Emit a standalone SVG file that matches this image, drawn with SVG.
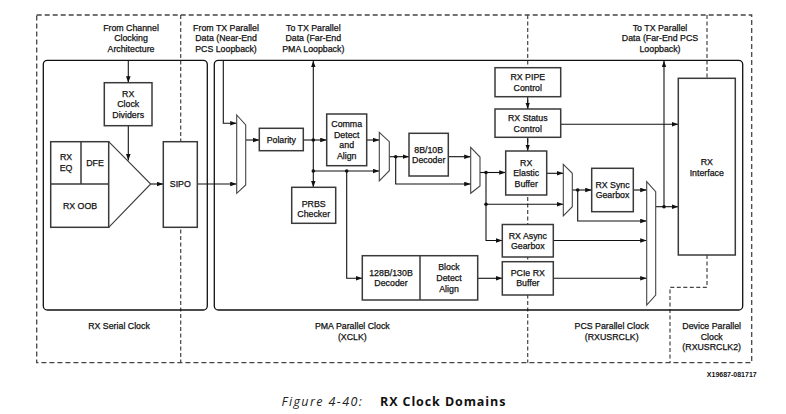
<svg xmlns="http://www.w3.org/2000/svg" width="786" height="414" viewBox="0 0 786 414">
<defs>
<marker id="ah" markerUnits="userSpaceOnUse" markerWidth="7" markerHeight="5" refX="6.5" refY="2.3" orient="auto"><path d="M0,0 L6.5,2.3 L0,4.6 z" fill="#111"/></marker>
<style>
text{font-family:"Liberation Sans",Arial,sans-serif;font-size:8.8px;fill:#111;stroke:#111;stroke-width:0.25;text-anchor:middle}
.box{fill:#fff;stroke:#3a3a3a;stroke-width:1.5}
.mux{fill:#fff;stroke:#444;stroke-width:1.1}
.dash{fill:none;stroke:#444;stroke-width:1.3;stroke-dasharray:5 3}
.vdash{fill:none;stroke:#444;stroke-width:1.2;stroke-dasharray:4 2.5}
.panel{fill:none;stroke:#111;stroke-width:1.3}
.c{fill:none;stroke:#3a3a3a;stroke-width:1.5}
.a{fill:none;stroke:#111;stroke-width:1.1;marker-end:url(#ah)}
.dot{fill:#111}
.cap{text-anchor:start;font-family:"Open Sans","Noto Sans",sans-serif;font-size:12.5px;stroke:none}
</style>
</defs>
<rect width="786" height="414" fill="#fff"/>
<g id="domains">
<rect class="dash" x="36.7" y="15" width="715" height="347.7"/>
<path class="vdash" d="M180.7,15 V362.7"/>
<path class="vdash" d="M527.7,15 V362.7"/>
<path class="vdash" d="M707,15 V78.3 M707,255 V287.3 H670 V362.7"/>
</g>
<g id="panels">
<rect class="panel" x="43.3" y="60.3" width="164" height="249.7" rx="4"/>
<rect class="panel" x="214.3" y="60.3" width="528.4" height="249.7" rx="4"/>
</g>
<g id="labels">
<text x="131" y="30.5">From Channel</text><text x="131" y="41">Clocking</text><text x="131" y="51.5">Architecture</text>
<text x="226" y="30.5">From TX Parallel</text><text x="226" y="41">Data (Near-End</text><text x="226" y="51.5">PCS Loopback)</text>
<text x="313.3" y="30.5">To TX Parallel</text><text x="313.3" y="41">Data (Far-End</text><text x="313.3" y="51.5">PMA Loopback)</text>
<text x="660" y="30.5">To TX Parallel</text><text x="660" y="41">Data (Far-End PCS</text><text x="660" y="51.5">Loopback)</text>
<text x="119" y="329.2">RX Serial Clock</text>
<text x="352.3" y="329.2">PMA Parallel Clock</text><text x="352.3" y="339.7">(XCLK)</text>
<text x="611.7" y="329.2">PCS Parallel Clock</text><text x="611.7" y="339.7">(RXUSRCLK)</text>
<text x="711.7" y="329.2">Device Parallel</text><text x="711.7" y="339.7">Clock</text><text x="711.7" y="350.2">(RXUSRCLK2)</text>
<text x="756.7" y="377" style="text-anchor:end;font-size:7px;font-weight:bold;stroke:none">X19687-081717</text>
</g>
<g id="connectors">
<path class="a" d="M128.3,60.3 V82.7"/>
<path class="a" d="M128.3,125.7 V160.5"/>
<path class="a" d="M150.7,184 H163.3"/>
<path class="a" d="M197.3,184 H236.7"/>
<path class="a" d="M223.3,60.3 V123.3 H236.7"/>
<path class="a" d="M245.7,140 H259.3"/>
<path class="a" d="M303.3,140 H326.7"/>
<path class="a" d="M313.3,140 V60.8"/>
<path class="a" d="M313.3,140 V187.3"/>
<path class="a" d="M313.3,171 H379.3"/>
<path class="a" d="M346.7,171 V278.3 H362.3"/>
<path class="a" d="M366.7,140 H379.3"/>
<path class="a" d="M389.3,156.7 H409"/>
<path class="a" d="M395.7,156.7 V184 H470.7"/>
<path class="a" d="M448.3,156.7 H470.7"/>
<path class="a" d="M480,172.5 H505.7"/>
<path class="a" d="M486,172.5 V240.5 H502.3"/>
<path class="a" d="M486,204.3 H563.3"/>
<path class="a" d="M527.7,96.7 V109"/>
<path class="a" d="M527.7,137.3 V151"/>
<path class="a" d="M560.7,124.3 H678.3"/>
<path class="a" d="M546.7,173.3 H563.3"/>
<path class="a" d="M572.3,190 H591.7"/>
<path class="a" d="M577.7,190 V221 H646.7"/>
<path class="a" d="M633.3,190 H646.7"/>
<path class="a" d="M553.3,240.5 H646.7"/>
<path class="a" d="M477.7,278.3 H502.3"/>
<path class="a" d="M553.3,278.3 H646.7"/>
<path class="a" d="M655.7,206.7 H678.3"/>
<path class="a" d="M664,206.7 V60.8"/>
<circle class="dot" cx="313.3" cy="140" r="1.8"/>
<circle class="dot" cx="313.3" cy="171" r="1.8"/>
<circle class="dot" cx="346.7" cy="171" r="1.8"/>
<circle class="dot" cx="395.7" cy="156.7" r="1.8"/>
<circle class="dot" cx="486" cy="172.5" r="1.8"/>
<circle class="dot" cx="486" cy="204.3" r="1.8"/>
<circle class="dot" cx="577.7" cy="190" r="1.8"/>
<circle class="dot" cx="664" cy="206.7" r="1.8"/>
</g>
<g id="clock-dividers"><rect class="box" x="104.3" y="82.7" width="47.7" height="43"/><text x="128.2" y="96.5">RX</text><text x="128.2" y="107.2">Clock</text><text x="128.2" y="117.9">Dividers</text></g>
<g id="rx-frontend">
<rect class="box" x="50.7" y="141.7" width="58" height="85.6"/>
<path class="c" d="M81,141.7 V184 M50.7,184 H108.7"/>
<path class="c" d="M108.7,141.7 L150.7,184 L108.7,227.3" style="stroke-width:1.1"/>
<text x="66" y="159.9">RX</text><text x="66" y="170.5">EQ</text>
<text x="95" y="166.2">DFE</text>
<text x="80" y="208.5">RX OOB</text>
</g>
<g id="sipo"><rect class="box" x="163.3" y="141.7" width="34" height="85.6"/><text x="180.3" y="187.2">SIPO</text></g>
<g id="mux1"><polygon class="mux" points="236.7,115 245.7,125 245.7,185 236.7,193.3"/></g>
<g id="polarity"><rect class="box" x="259.3" y="128.3" width="44" height="22.4"/><text x="281.3" y="142.7">Polarity</text></g>
<g id="comma"><rect class="box" x="326.7" y="114" width="40" height="51.7"/><text x="346.7" y="127.2">Comma</text><text x="346.7" y="137.5">Detect</text><text x="346.7" y="148.2">and</text><text x="346.7" y="158.5">Align</text></g>
<g id="prbs"><rect class="box" x="291.7" y="187.3" width="44" height="36"/><text x="313.7" y="206.5">PRBS</text><text x="313.7" y="216.9">Checker</text></g>
<g id="mux2"><polygon class="mux" points="379.3,132.3 389.3,141.7 389.3,170.7 379.3,181"/></g>
<g id="dec8b10b"><rect class="box" x="409" y="133.3" width="39.3" height="42.7"/><text x="428.7" y="153.2">8B/10B</text><text x="428.7" y="163.2">Decoder</text></g>
<g id="mux3"><polygon class="mux" points="470.7,147.3 480,157 480,186 470.7,193.3"/></g>
<g id="dec128b"><rect class="box" x="362.3" y="255.7" width="115.4" height="44.3"/><path class="c" d="M420,255.7 V300"/><text x="391" y="275.5">128B/130B</text><text x="391" y="285.9">Decoder</text><text x="449" y="270.2">Block</text><text x="449" y="280.9">Detect</text><text x="449" y="291.5">Align</text></g>
<g id="pipe-control"><rect class="box" x="495" y="67.7" width="65.7" height="29"/><text x="527.8" y="79.9">RX PIPE</text><text x="527.8" y="90.5">Control</text></g>
<g id="status-control"><rect class="box" x="495" y="109" width="65.7" height="28.3"/><text x="527.8" y="121.2">RX Status</text><text x="527.8" y="131.5">Control</text></g>
<g id="elastic"><rect class="box" x="505.7" y="151" width="41" height="44"/><text x="526.2" y="165.9">RX</text><text x="526.2" y="176.2">Elastic</text><text x="526.2" y="186.5">Buffer</text></g>
<g id="async"><rect class="box" x="502.3" y="224.5" width="51" height="32.5"/><text x="527.8" y="238.9">RX Async</text><text x="527.8" y="248.9">Gearbox</text></g>
<g id="pcie"><rect class="box" x="502.3" y="261.7" width="51" height="33.3"/><text x="527.8" y="275.9">PCIe RX</text><text x="527.8" y="286.2">Buffer</text></g>
<g id="mux4"><polygon class="mux" points="563.3,164.3 572.3,173.3 572.3,206.7 563.3,216"/></g>
<g id="sync"><rect class="box" x="591.7" y="168.3" width="41.6" height="43.4"/><text x="612.5" y="187.5">RX Sync</text><text x="612.5" y="197.9">Gearbox</text></g>
<g id="mux5"><polygon class="mux" points="646.7,181.7 655.7,191.7 655.7,295 646.7,305"/></g>
<g id="rx-interface"><rect class="box" x="678.3" y="78.3" width="57" height="176.7"/><text x="706.8" y="165.2">RX</text><text x="706.8" y="175.5">Interface</text></g>
<g id="caption">
<text class="cap" x="281.5" y="406" style="font-style:italic;letter-spacing:1.4px;fill:#222">Figure 4-40:</text>
<text class="cap" x="380" y="406" style="font-weight:bold;letter-spacing:0.9px">RX Clock Domains</text>
</g>
</svg>
